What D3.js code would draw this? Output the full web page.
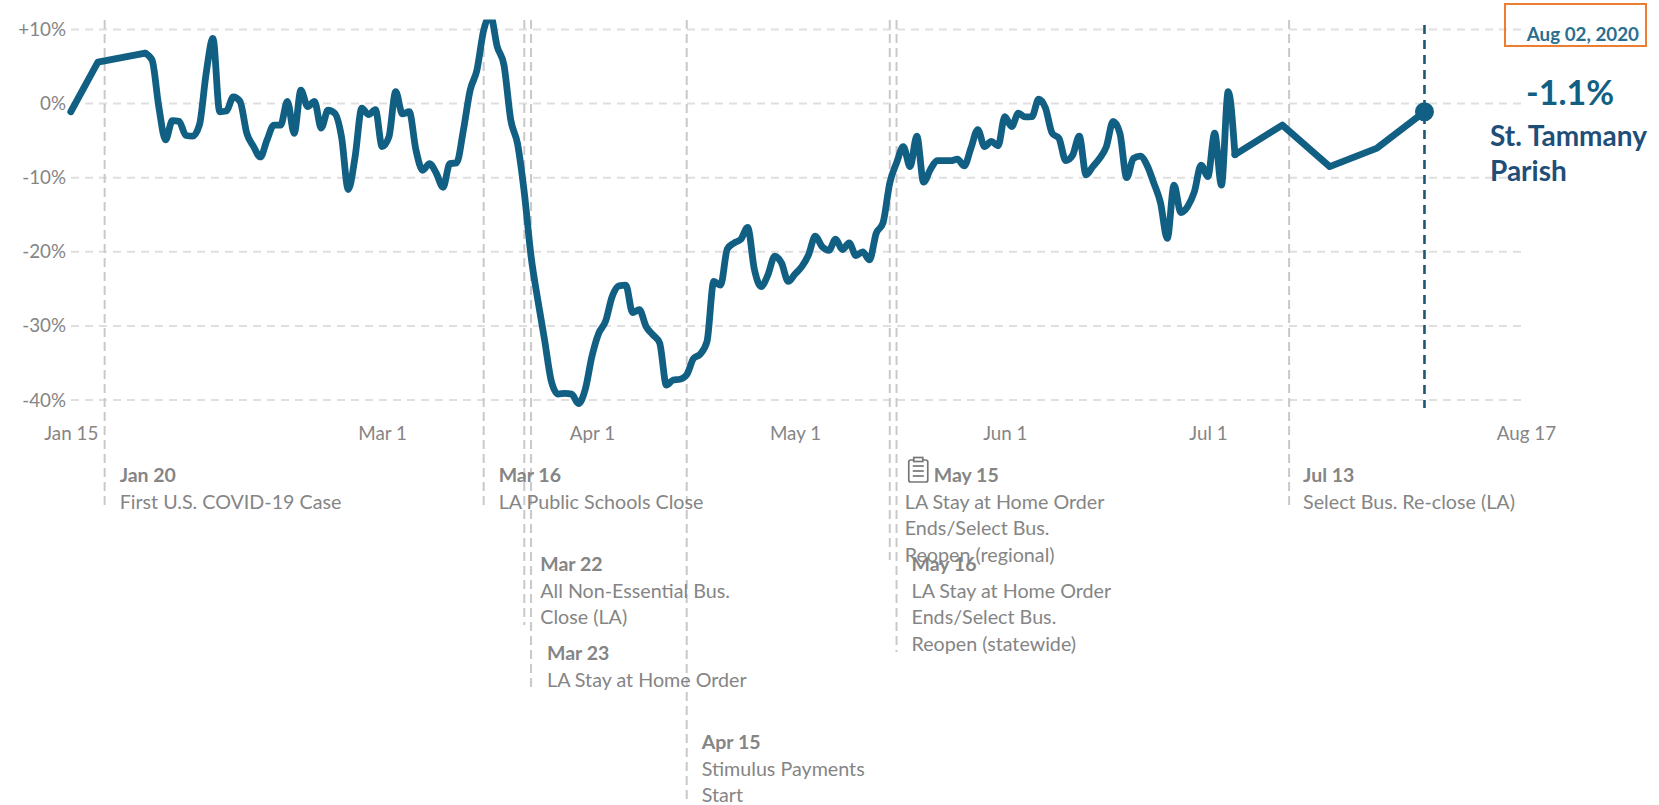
<!DOCTYPE html>
<html><head><meta charset="utf-8">
<script src="https://cdn.jsdelivr.net/npm/d3@7"></script>
<style>
html,body{margin:0;padding:0;background:#fff;overflow:hidden}
text{font-family:Lato,"Noto Sans",sans-serif}
</style></head><body><svg id="c" width="1659" height="805"></svg>
<script>
const startDate = "2020-01-15";
const endDate = "2020-08-17";
const days = [0,4,11,12,13,14,15,16,17,18,19,20,21,22,23,24,25,26,27,28,29,30,31,32,33,34,35,36,37,38,39,40,41,42,43,44,45,46,47,48,49,50,51,52,53,54,55,56,57,58,59,60,61,62,63,64,65,66,67,68,69,70,71,72,73,74,75,76,77,78,79,80,81,82,83,84,85,86,87,88,89,90,91,92,93,94,95,96,97,98,99,100,101,102,103,104,105,106,107,108,109,110,111,112,113,114,115,116,117,118,119,120,121,122,123,124,125,126,127,128,129,130,131,132,133,134,135,136,137,138,139,140,141,142,143,144,145,146,147,148,149,150,151,152,153,154,155,156,157,158,159,160,161,162,163,164,165,166,167,168,169,170,171,172,179,186,193,200];
const values = [-1.1,5.6,6.8,5.9,-0.4,-4.9,-2.3,-2.4,-4.3,-4.4,-2.9,4.1,8.8,-1.1,-1,0.9,0.3,-4,-5.8,-7.2,-4.9,-2.9,-2.9,0.3,-4,1.8,-0.4,0.3,-3.3,-0.9,-1.3,-4.5,-11.6,-7.2,-0.6,-1.5,-0.8,-5.8,-4.5,1.6,-1.4,-1.1,-6.3,-9,-8.1,-9.4,-11.3,-8.1,-8,-3.6,1.8,4.5,9.9,11.9,7.7,5.2,-2.2,-5.4,-12,-20.6,-26.5,-31.9,-37.5,-39.2,-39.1,-39.2,-40.5,-38.6,-34.1,-31,-29.4,-26,-24.6,-24.5,-28.2,-27.8,-30.1,-31.2,-32.3,-38,-37.3,-37.2,-36.6,-34.4,-33.8,-32.1,-24,-24.5,-19.6,-18.8,-18.3,-16.7,-22.4,-24.7,-23.1,-20.6,-21.5,-24,-23,-22,-20.4,-17.9,-19.3,-19.8,-18.3,-19.7,-18.8,-20.5,-20,-21.1,-17.5,-16.1,-10.7,-8,-5.8,-8.5,-4.4,-10.6,-8.9,-7.7,-7.7,-7.7,-7.5,-8.4,-6,-3.5,-5.8,-5.1,-5.7,-1.75,-3.1,-1.3,-1.8,-1.75,0.6,-0.6,-4,-4.7,-7.7,-7,-4.4,-9.6,-8.5,-7.4,-5.8,-2.4,-4,-10,-7.4,-7.1,-8.3,-10.7,-13.4,-18.2,-11,-14.7,-13.9,-11.9,-8.3,-9.85,-4,-11,1.6,-6.9,-2.9,-8.5,-6,-1.1];
const yTicks = [10,0,-10,-20,-30,-40];
const xTickDates = ["2020-01-15","2020-03-01","2020-04-01","2020-05-01","2020-06-01","2020-07-01","2020-08-17"];
const xTickLabels = ["Jan 15","Mar 1","Apr 1","May 1","Jun 1","Jul 1","Aug 17"];
const eventDates = ["2020-01-20","2020-03-16","2020-03-22","2020-03-23","2020-04-15","2020-05-15","2020-05-16","2020-07-13"];
const eventTitles = ["Jan 20","Mar 16","Mar 22","Mar 23","Apr 15","May 15","May 16","Jul 13"];
const eventLines = [["First U.S. COVID-19 Case"],["LA Public Schools Close"],["All Non-Essential Bus.","Close (LA)"],["LA Stay at Home Order"],["Stimulus Payments","Start"],["LA Stay at Home Order","Ends/Select Bus.","Reopen (regional)"],["LA Stay at Home Order","Ends/Select Bus.","Reopen (statewide)"],["Select Bus. Re-close (LA)"]];
const eventRow = [0,0,1,2,3,0,1,0];
const currentDate = "2020-08-02";
const currentLabel = "Aug 02, 2020";
const currentValue = "-1.1%";
const currentName = ["St. Tammany","Parish"];

const parse = d3.utcParse("%Y-%m-%d");
const x = d3.scaleUtc().domain([parse(startDate),parse(endDate)]).range([70.8,1526]);
const y = d3.scaleLinear().domain([-40,10]).range([400,29.5]);
const svg = d3.select("#c");
const grey = "#858585";
const fontPx = 18.8;
const bodyPx = 19.7;
const titlePx = 19.5;

// grid
svg.append("g").selectAll("line").data(yTicks).join("line")
  .attr("x1",71).attr("x2",1526).attr("y1",d=>y(d)).attr("y2",d=>y(d))
  .attr("stroke","#dfdfdf").attr("stroke-width",2).attr("stroke-dasharray","8 6");

// event lines
const bottoms = [510,510,625,688,803,560,652,510];
svg.append("g").selectAll("line").data(eventDates).join("line")
  .attr("x1",d=>x(parse(d))).attr("x2",d=>x(parse(d))).attr("y1",20).attr("y2",(d,i)=>bottoms[i])
  .attr("stroke","#c9c9c9").attr("stroke-width",2).attr("stroke-dasharray","9 5");

// current date line
svg.append("line").attr("x1",x(parse(currentDate))).attr("x2",x(parse(currentDate)))
  .attr("y1",25).attr("y2",408).attr("stroke","#1d5674").attr("stroke-width",2.6).attr("stroke-dasharray","9 6");

// axes
const ax = d3.axisBottom(x).tickValues(xTickDates.map(parse)).tickSize(0).tickPadding(0)
  .tickFormat((d,i)=>xTickLabels[i]);
const gx = svg.append("g").attr("transform","translate(0,440)").call(ax);
gx.select(".domain").remove();
gx.selectAll("text").attr("dy",0).attr("y",0).attr("fill",grey).style("font-family","Lato").style("font-size",fontPx+"px");
const ay = d3.axisLeft(y).tickValues(yTicks).tickSize(0).tickPadding(0)
  .tickFormat(d=>d>0?"+"+d+"%":d+"%");
const gy = svg.append("g").attr("transform","translate(66,0)").call(ay);
gy.select(".domain").remove();
gy.selectAll("text").attr("fill",grey).style("font-family","Lato").style("font-size",fontPx+"px");

// series: daily stretches are smoothed, weekly stretches are straight
svg.append("clipPath").attr("id","top").append("rect").attr("x",0).attr("y",19.5).attr("width",1659).attr("height",790);
const pts = days.map((d,i)=>({date:d3.utcDay.offset(parse(startDate),d),v:values[i],day:d}));
const runs = [];
pts.forEach((p,i)=>{
  if(i===0) return;
  const daily = p.day-pts[i-1].day===1;
  const last = runs[runs.length-1];
  if(last && last.daily===daily) last.pts.push(p);
  else runs.push({daily,pts:[pts[i-1],p]});
});
const seriesG = svg.append("g").attr("clip-path","url(#top)").attr("fill","none").attr("stroke","#125f84")
  .attr("stroke-width",6.8).attr("stroke-linejoin","round").attr("stroke-linecap","round");
seriesG.selectAll("path").data(runs).join("path")
  .attr("d",r=>d3.line().x(d=>x(d.date)).y(d=>y(d.v)).curve(r.daily?d3.curveMonotoneX:d3.curveLinear)(r.pts));
svg.append("circle").attr("cx",x(parse(currentDate))).attr("cy",y(values[values.length-1])).attr("r",9.5).attr("fill","#125f84");

// event labels
const labelGap = [15,15,16,16,15,15,15,14];
const rowY = [482,571,660,749];
const g = svg.append("g");
eventDates.forEach((d,i)=>{
  const lx = x(parse(d))+labelGap[i];
  const ty = rowY[eventRow[i]];
  const tx = i===5 ? lx+29 : lx;
  g.append("text").attr("x",tx).attr("y",ty).attr("fill",grey).attr("font-weight",700).attr("font-size",titlePx).text(eventTitles[i]);
  eventLines[i].forEach((t,j)=>{
    g.append("text").attr("x",lx).attr("y",ty+26.5*(j+1)).attr("fill",grey).attr("font-size",bodyPx).text(t);
  });
});
// note icon
const ix = x(parse(eventDates[5]))+19;
const ic = svg.append("g").attr("fill","none").attr("stroke","#777").attr("stroke-width",1.7);
ic.append("rect").attr("x",ix).attr("y",460).attr("width",19).attr("height",22).attr("rx",2);
ic.append("rect").attr("x",ix+5).attr("y",457.5).attr("width",9).attr("height",4).attr("fill","#fff");
[466,471,476].forEach(v=>ic.append("line").attr("x1",ix+4).attr("x2",ix+15).attr("y1",v).attr("y2",v));

// top-right annotations
svg.append("rect").attr("x",1505).attr("y",4).attr("width",141).attr("height",42).attr("fill","none").attr("stroke","#ed7d31").attr("stroke-width",2);
svg.append("text").attr("x",1639).attr("y",41).attr("text-anchor","end").attr("fill","#2a6f90").attr("font-weight",700).attr("font-size",18.8).text(currentLabel);
svg.append("text").attr("x",1526).attr("y",105).attr("fill","#125f84").attr("font-weight",700).attr("font-size",34).text(currentValue);
currentName.forEach((t,i)=>svg.append("text").attr("x",1490).attr("y",146+i*34.5).attr("fill","#1f4e79").attr("font-weight",700).attr("font-size",28).text(t));
</script></body></html>
